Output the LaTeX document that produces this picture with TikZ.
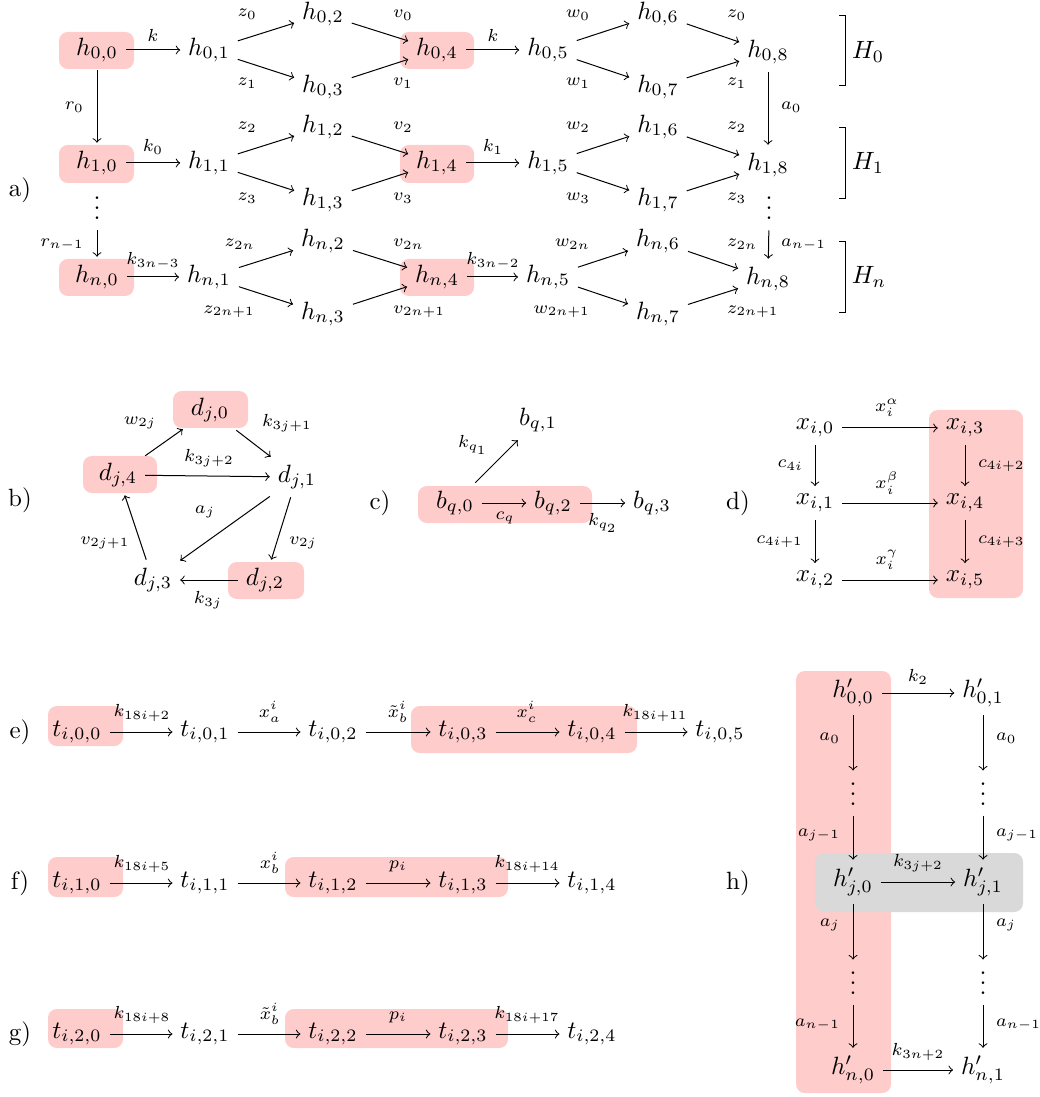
\documentclass[tikz,border=0pt]{standalone}
\usepackage{amsmath}
\definecolor{boxred}{RGB}{255,204,204}
\definecolor{boxgray}{RGB}{217,217,217}
\begin{document}
\begin{tikzpicture}[x=0.4pt,y=-0.4pt,
  nd/.style={inner sep=3pt},
  lb/.style={font=\scriptsize, inner sep=1pt},
  lbf/.style={font=\scriptsize, inner sep=1pt},
  dt/.style={inner sep=0pt, anchor=base},
  rbox/.style={fill=boxred, rounded corners=3.5pt},
  gbox/.style={fill=boxgray, rounded corners=3.5pt},
  pl/.style={font=\normalsize}]
\useasboundingbox (0,0) rectangle (1039,1097);

% ---------------- boxes ----------------
\fill[rbox] (59,32) rectangle (134,69);
\fill[rbox] (400,32) rectangle (474,69);
\fill[rbox] (59,145) rectangle (134,183);
\fill[rbox] (400,145) rectangle (474,183);
\fill[rbox] (59,259) rectangle (134,296);
\fill[rbox] (400,259) rectangle (474,296);
\fill[rbox] (173,391) rectangle (248,428);
\fill[rbox] (83,456) rectangle (157,493);
\fill[rbox] (228,562) rectangle (304,599);
\fill[rbox] (418,486) rectangle (592,523);
\fill[rbox] (929,410) rectangle (1023,598);
\fill[rbox] (48,706) rectangle (123,746);
\fill[rbox] (411,706) rectangle (637,753);
\fill[rbox] (48,857) rectangle (123,897);
\fill[rbox] (285,857) rectangle (508,897);
\fill[rbox] (48,1009) rectangle (123,1048);
\fill[rbox] (285,1009) rectangle (508,1048);
\fill[rbox] (796,671) rectangle (891,1093);
\fill[gbox] (815,853) rectangle (1023,912);

% ---------------- a) ----------------
\node[pl] (pa) at (20,190) {a)};
\foreach \r/\y in {0/50,1/163,n/277}{
  \node[nd] (h\r0) at (97,\y) {$h_{\r,0}$};
  \node[nd] (h\r1) at (209,\y) {$h_{\r,1}$};
  \node[nd] (h\r2) at (323,\y-36) {$h_{\r,2}$};
  \node[nd] (h\r3) at (323,\y+37) {$h_{\r,3}$};
  \node[nd] (h\r4) at (437,\y) {$h_{\r,4}$};
  \node[nd] (h\r5) at (548,\y) {$h_{\r,5}$};
  \node[nd] (h\r6) at (658,\y-36) {$h_{\r,6}$};
  \node[nd] (h\r7) at (658,\y+37) {$h_{\r,7}$};
  \node[nd] (h\r8) at (768,\y+2) {$h_{\r,8}$};
  \draw[->] (h\r0) -- (h\r1);
  \draw[->] (h\r1) -- (h\r2);
  \draw[->] (h\r1) -- (h\r3);
  \draw[->] (h\r2) -- (h\r4);
  \draw[->] (h\r3) -- (h\r4);
  \draw[->] (h\r4) -- (h\r5);
  \draw[->] (h\r5) -- (h\r6);
  \draw[->] (h\r5) -- (h\r7);
  \draw[->] (h\r6) -- (h\r8);
  \draw[->] (h\r7) -- (h\r8);
}
% labels row 0
\node[lb] (l01) at (153,35) {$k$};
\node[lb,anchor=east] (l02) at (260,14) {$z_0$};
\node[lb,anchor=east] (l03) at (260,83) {$z_1$};
\node[lb,anchor=west] (l04) at (390,15) {$v_0$};
\node[lb,anchor=west] (l05) at (390,83) {$v_1$};
\node[lb] (l06) at (493,35) {$k$};
\node[lb,anchor=east] (l07) at (593,15) {$w_0$};
\node[lb,anchor=east] (l08) at (593,83) {$w_1$};
\node[lb,anchor=west] (l09) at (724,15) {$z_0$};
\node[lb,anchor=west] (l10) at (724,83) {$z_1$};
% labels row 1
\node[lb] (l11) at (153,147) {$k_0$};
\node[lb,anchor=east] (l12) at (260,127) {$z_2$};
\node[lb,anchor=east] (l13) at (260,198) {$z_3$};
\node[lb,anchor=west] (l14) at (390,127) {$v_2$};
\node[lb,anchor=west] (l15) at (390,198) {$v_3$};
\node[lb] (l16) at (493,147) {$k_1$};
\node[lb,anchor=east] (l17) at (593,127) {$w_2$};
\node[lb,anchor=east] (l18) at (593,198) {$w_3$};
\node[lb,anchor=west] (l19) at (724,127) {$z_2$};
\node[lb,anchor=west] (l20) at (724,198) {$z_3$};
% labels row n
\node[lb] (l21) at (153,261) {$k_{3n-3}$};
\node[lb,anchor=east] (l22) at (258,244) {$z_{2n}$};
\node[lb,anchor=east] (l23) at (258,312) {$z_{2n+1}$};
\node[lb,anchor=west] (l24) at (390,244) {$v_{2n}$};
\node[lb,anchor=west] (l25) at (390,312) {$v_{2n+1}$};
\node[lb] (l26) at (493,261) {$k_{3n-2}$};
\node[lb,anchor=east] (l27) at (593,244) {$w_{2n}$};
\node[lb,anchor=east] (l28) at (593,312) {$w_{2n+1}$};
\node[lb,anchor=west] (l29) at (724,244) {$z_{2n}$};
\node[lb,anchor=west] (l30) at (724,312) {$z_{2n+1}$};
% verticals
\node[dt] (dal) at (97,220) {$\vdots$};
\node[dt] (dar) at (769,220) {$\vdots$};
\draw[->] (h00) -- (h10);
\draw[->,shorten <=4pt] (dal.south) -- (hn0);
\draw[->] (h08) -- (h18);
\draw[->,shorten <=4pt] (dar.south) -- (hn8);
\node[lb,anchor=east] (lr0) at (87,107) {$r_0$};
\node[lb,anchor=east] (lr1) at (87,245) {$r_{n-1}$};
\node[lb,anchor=west] (la0) at (778,107) {$a_0$};
\node[lb,anchor=west] (la1) at (778,245) {$a_{n-1}$};
% brackets
\draw (839,16) -- (845,16) -- (845,86) -- (839,86);
\draw (839,128) -- (845,128) -- (845,199) -- (839,199);
\draw (839,242) -- (845,242) -- (845,313) -- (839,313);
\node[nd] (H0) at (868,52) {$H_0$};
\node[nd] (H1) at (868,163) {$H_1$};
\node[nd] (Hn) at (869,277) {$H_n$};

% ---------------- b) ----------------
\node[pl] (pb) at (20,500) {b)};
\node[nd] (d0) at (210,410) {$d_{j,0}$};
\node[nd] (d1) at (297,477) {$d_{j,1}$};
\node[nd] (d2) at (265,580) {$d_{j,2}$};
\node[nd] (d3) at (153,580) {$d_{j,3}$};
\node[nd] (d4) at (118,475) {$d_{j,4}$};
\draw[->] (d4) -- (d0);
\draw[->] (d0) -- (d1);
\draw[->] (d4) -- (d1);
\draw[->] (d1) -- (d3);
\draw[->] (d1) -- (d2);
\draw[->] (d2) -- (d3);
\draw[->] (d3) -- (d4);
\node[lb] (lb1) at (140,423) {$w_{2j}$};
\node[lb] (lb2) at (287,423) {$k_{3j+1}$};
\node[lb] (lb3) at (209,458) {$k_{3j+2}$};
\node[lb] (lb4) at (205,512) {$a_j$};
\node[lb] (lb5) at (303,543) {$v_{2j}$};
\node[lb] (lb6) at (208,600) {$k_{3j}$};
\node[lb] (lb7) at (105,543) {$v_{2j+1}$};

% ---------------- c) ----------------
\node[pl] (pc) at (380,503) {c)};
\node[nd] (b0) at (455,503) {$b_{q,0}$};
\node[nd] (b1) at (538,420) {$b_{q,1}$};
\node[nd] (b2) at (553,503) {$b_{q,2}$};
\node[nd] (b3) at (652,503) {$b_{q,3}$};
\draw[->] (b0) -- (b2);
\draw[->] (b2) -- (b3);
\draw[->] (b0) -- (b1);
\node[lb] (lc1) at (505,518) {$c_q$};
\node[lb] (lc2) at (603,523) {$k_{q_2}$};
\node[lb] (lc3) at (473,445) {$k_{q_1}$};

% ---------------- d) ----------------
\node[pl] (pd) at (738,503) {d)};
\node[nd] (x0) at (815,428) {$x_{i,0}$};
\node[nd] (x1) at (815,503) {$x_{i,1}$};
\node[nd] (x2) at (815,580) {$x_{i,2}$};
\node[nd] (x3) at (965,428) {$x_{i,3}$};
\node[nd] (x4) at (965,503) {$x_{i,4}$};
\node[nd] (x5) at (965,580) {$x_{i,5}$};
\draw[->] (x0) -- (x3);
\draw[->] (x1) -- (x4);
\draw[->] (x2) -- (x5);
\draw[->] (x0) -- (x1);
\draw[->] (x1) -- (x2);
\draw[->] (x3) -- (x4);
\draw[->] (x4) -- (x5);
\node[lb] (ld1) at (887,408) {$x_i^{\alpha}$};
\node[lb] (ld2) at (887,483) {$x_i^{\beta}$};
\node[lb] (ld3) at (887,560) {$x_i^{\gamma}$};
\node[lb,anchor=east] (ld4) at (806,465) {$c_{4i}$};
\node[lb,anchor=east] (ld5) at (806,542) {$c_{4i+1}$};
\node[lb,anchor=west] (ld6) at (975,466) {$c_{4i+2}$};
\node[lb,anchor=west] (ld7) at (975,542) {$c_{4i+3}$};

% ---------------- e) f) g) ----------------
\node[pl] (pe) at (20,732) {e)};
\node[pl] (pf) at (20,883) {f)};
\node[pl] (pg) at (20,1034) {g)};
\node[nd] (e0) at (77,732) {$t_{i,0,0}$};
\node[nd] (e1) at (205,732) {$t_{i,0,1}$};
\node[nd] (e2) at (333,732) {$t_{i,0,2}$};
\node[nd] (e3) at (463,732) {$t_{i,0,3}$};
\node[nd] (e4) at (592,732) {$t_{i,0,4}$};
\node[nd] (e5) at (720,732) {$t_{i,0,5}$};
\draw[->] (e0) -- (e1);
\draw[->] (e1) -- (e2);
\draw[->] (e2) -- (e3);
\draw[->] (e3) -- (e4);
\draw[->] (e4) -- (e5);
\node[lbf] (le1) at (142,713) {$k_{18i+2}$};
\node[lbf] (le2) at (270,712) {$x_a^i$};
\node[lbf] (le3) at (398,712) {$\tilde{x}_b^i$};
\node[lbf] (le4) at (527,712) {$x_c^i$};
\node[lbf] (le5) at (655,713) {$k_{18i+11}$};
\node[nd] (f0) at (77,883) {$t_{i,1,0}$};
\node[nd] (f1) at (205,883) {$t_{i,1,1}$};
\node[nd] (f2) at (333,883) {$t_{i,1,2}$};
\node[nd] (f3) at (463,883) {$t_{i,1,3}$};
\node[nd] (f4) at (592,883) {$t_{i,1,4}$};
\draw[->] (f0) -- (f1);
\draw[->] (f1) -- (f2);
\draw[->] (f2) -- (f3);
\draw[->] (f3) -- (f4);
\node[lbf] (lf1) at (142,864) {$k_{18i+5}$};
\node[lbf] (lf2) at (270,863) {$x_b^i$};
\node[lbf] (lf3) at (398,866) {$p_i$};
\node[lbf] (lf4) at (527,864) {$k_{18i+14}$};
\node[nd] (g0) at (77,1034) {$t_{i,2,0}$};
\node[nd] (g1) at (205,1034) {$t_{i,2,1}$};
\node[nd] (g2) at (333,1034) {$t_{i,2,2}$};
\node[nd] (g3) at (463,1034) {$t_{i,2,3}$};
\node[nd] (g4) at (592,1034) {$t_{i,2,4}$};
\draw[->] (g0) -- (g1);
\draw[->] (g1) -- (g2);
\draw[->] (g2) -- (g3);
\draw[->] (g3) -- (g4);
\node[lbf] (lg1) at (142,1015) {$k_{18i+8}$};
\node[lbf] (lg2) at (270,1014) {$\tilde{x}_b^i$};
\node[lbf] (lg3) at (398,1017) {$p_i$};
\node[lbf] (lg4) at (527,1015) {$k_{18i+17}$};

% ---------------- h) ----------------
\node[pl] (ph) at (738,883) {h)};
\node[nd] (p00) at (853,693) {$h'_{0,0}$};
\node[nd] (p01) at (983,693) {$h'_{0,1}$};
\node[nd] (pj0) at (853,882) {$h'_{j,0}$};
\node[nd] (pj1) at (983,882) {$h'_{j,1}$};
\node[nd] (pn0) at (853,1070) {$h'_{n,0}$};
\node[nd] (pn1) at (983,1070) {$h'_{n,1}$};
\node[dt] (dh1) at (853,805) {$\vdots$};
\node[dt] (dh2) at (983,805) {$\vdots$};
\node[dt] (dh3) at (853,994) {$\vdots$};
\node[dt] (dh4) at (983,994) {$\vdots$};
\draw[->] (p00) -- (p01);
\draw[->] (pj0) -- (pj1);
\draw[->] (pn0) -- (pn1);
\draw[->,shorten >=14pt] (p00) -- (dh1.south);
\draw[->,shorten >=14pt] (p01) -- (dh2.south);
\draw[->,shorten <=4pt] (dh1.south) -- (pj0);
\draw[->,shorten <=4pt] (dh2.south) -- (pj1);
\draw[->,shorten >=14pt] (pj0) -- (dh3.south);
\draw[->,shorten >=14pt] (pj1) -- (dh4.south);
\draw[->,shorten <=4pt] (dh3.south) -- (pn0);
\draw[->,shorten <=4pt] (dh4.south) -- (pn1);
\node[lb] (lh1) at (918,677) {$k_2$};
\node[lb] (lh2) at (918,863) {$k_{3j+2}$};
\node[lb] (lh3) at (918,1052) {$k_{3n+2}$};
\node[lb,anchor=east] (lh4) at (843,738) {$a_0$};
\node[lb,anchor=east] (lh5) at (843,835) {$a_{j-1}$};
\node[lb,anchor=east] (lh6) at (843,925) {$a_j$};
\node[lb,anchor=east] (lh7) at (843,1025) {$a_{n-1}$};
\node[lb,anchor=west] (lh8) at (993,738) {$a_0$};
\node[lb,anchor=west] (lh9) at (993,835) {$a_{j-1}$};
\node[lb,anchor=west] (lh10) at (993,925) {$a_j$};
\node[lb,anchor=west] (lh11) at (993,1025) {$a_{n-1}$};
\end{tikzpicture}
\end{document}
